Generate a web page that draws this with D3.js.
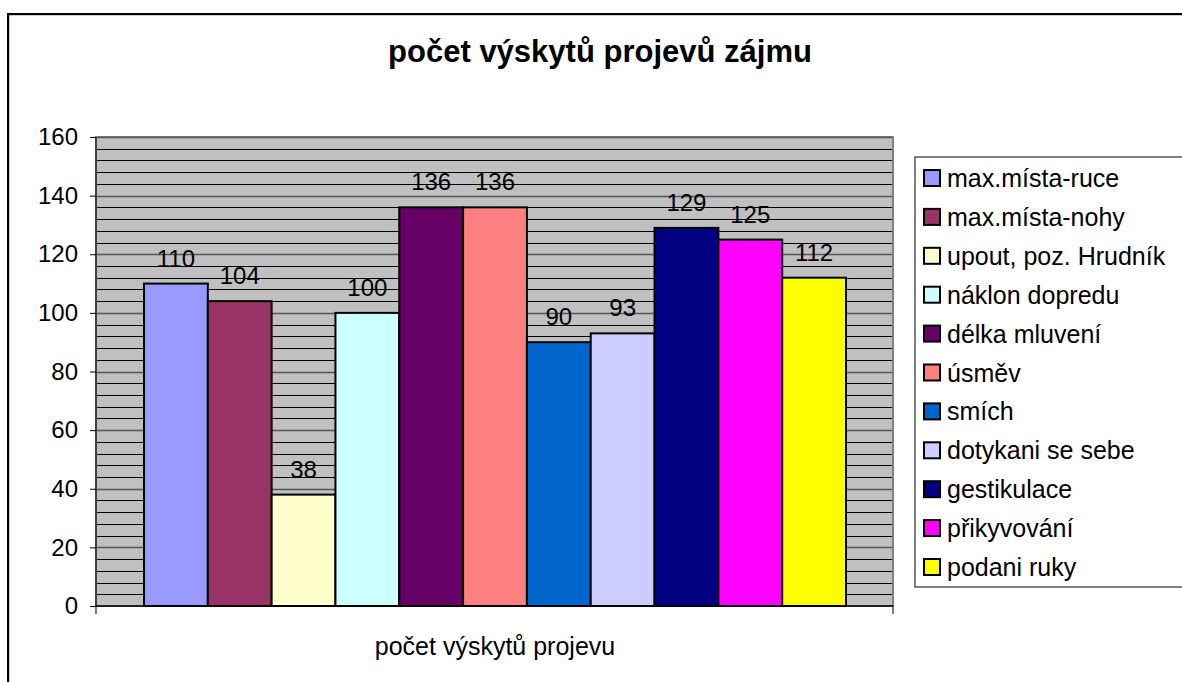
<!DOCTYPE html>
<html>
<head>
<meta charset="utf-8">
<script src="https://cdn.jsdelivr.net/npm/d3@7"></script>
<style>
  body { margin: 0; background: #fff; }
  svg { display: block; font-family: "Liberation Sans", Arial, sans-serif; }
</style>
</head>
<body>
<script>
// data
var categories = ['max.místa-ruce', 'max.místa-nohy', 'upout, poz. Hrudník', 'náklon dopredu',
  'délka mluvení', 'úsměv', 'smích', 'dotykani se sebe', 'gestikulace', 'přikyvování', 'podani ruky'];
var values = [110, 104, 38, 100, 136, 136, 90, 93, 129, 125, 112];
var colors = ['#9999FF', '#993366', '#FFFFCC', '#CCFFFF', '#660066', '#FF8080',
  '#0066CC', '#CCCCFF', '#000080', '#FF00FF', '#FFFF00'];
var yTicks = [0, 20, 40, 60, 80, 100, 120, 140, 160];
var groupLabel = 'počet výskytů projevu';

var W = 1182, H = 682;
var plot = { left: 96, top: 137, right: 893, bottom: 606 };

var svg = d3.select('body').append('svg')
  .attr('width', W).attr('height', H);

// chart border
svg.append('rect')
  .attr('x', 9).attr('y', 15).attr('width', W + 20).attr('height', H + 20)
  .attr('fill', 'none').attr('stroke', '#999').attr('stroke-width', 1);
svg.append('rect')
  .attr('x', 8).attr('y', 14).attr('width', W + 20).attr('height', H + 20)
  .attr('fill', 'none').attr('stroke', '#000').attr('stroke-width', 2);

svg.append('text')
  .attr('x', 600).attr('y', 62)
  .attr('text-anchor', 'middle')
  .attr('font-size', 31).attr('font-weight', 'bold')
  .text('počet výskytů projevů zájmu');

var y = d3.scaleLinear().domain([0, 160]).range([plot.bottom, plot.top]);
var x = d3.scaleBand().domain(categories)
  .range([144, 846]).paddingInner(0).paddingOuter(0);

// plot background
svg.append('rect')
  .attr('x', plot.left).attr('y', plot.top)
  .attr('width', plot.right - plot.left).attr('height', plot.bottom - plot.top)
  .attr('fill', '#C0C0C0').attr('stroke', '#808080').attr('stroke-width', 2);

// gridlines (minor every 4, major every 20)
var grid = d3.range(4, 161, 4);
svg.append('g').selectAll('line')
  .data(grid).enter().append('line')
  .attr('x1', plot.left + 1).attr('x2', plot.right - 1)
  .attr('y1', function (d) { return Math.round(y(d)) + 0.5; })
  .attr('y2', function (d) { return Math.round(y(d)) + 0.5; })
  .attr('stroke', function (d) { return d % 20 === 0 ? '#555' : '#000'; })
  .attr('stroke-width', function (d) { return d % 20 === 0 ? 1.5 : 1; });

// y axis
var yAxis = d3.axisLeft(y).tickValues(yTicks).tickSize(6).tickPadding(12);
var ga = svg.append('g')
  .attr('transform', 'translate(' + plot.left + ',0)')
  .call(yAxis);
ga.select('.domain').attr('stroke', '#000').attr('d', 'M0,' + plot.top + 'V' + (plot.bottom + 8));
ga.selectAll('.tick line').attr('stroke', '#000');
ga.selectAll('.tick text').attr('font-size', 24).attr('fill', '#000')
  .attr('font-family', '"Liberation Sans", Arial, sans-serif');

// x axis line
svg.append('line')
  .attr('x1', plot.left).attr('x2', plot.right)
  .attr('y1', plot.bottom).attr('y2', plot.bottom)
  .attr('stroke', '#000').attr('stroke-width', 1.5);
svg.append('line')
  .attr('x1', plot.right).attr('x2', plot.right)
  .attr('y1', plot.bottom).attr('y2', plot.bottom + 8)
  .attr('stroke', '#000');

svg.append('text')
  .attr('x', 495).attr('y', 655)
  .attr('text-anchor', 'middle').attr('font-size', 25)
  .text(groupLabel);

// bars
svg.append('g').selectAll('rect')
  .data(values).enter().append('rect')
  .attr('x', function (d, i) { return x(categories[i]); })
  .attr('y', function (d) { return y(d); })
  .attr('width', x.bandwidth())
  .attr('height', function (d) { return y(0) - y(d); })
  .attr('fill', function (d, i) { return colors[i]; })
  .attr('stroke', '#000').attr('stroke-width', 2);

svg.append('g').selectAll('text')
  .data(values).enter().append('text')
  .attr('x', function (d, i) { return x(categories[i]) + x.bandwidth() / 2; })
  .attr('y', function (d) { return y(d) - 17; })
  .attr('text-anchor', 'middle').attr('font-size', 24)
  .text(function (d) { return d; });

// legend
svg.append('rect')
  .attr('x', 915).attr('y', 157).attr('width', 300).attr('height', 430)
  .attr('fill', '#fff').attr('stroke', '#000').attr('stroke-width', 1);

var leg = svg.append('g').selectAll('g')
  .data(categories).enter().append('g')
  .attr('transform', function (d, i) { return 'translate(924,' + (178 + i * 38.9) + ')'; });
leg.append('rect')
  .attr('x', 0).attr('y', -8).attr('width', 16).attr('height', 16)
  .attr('fill', function (d, i) { return colors[i]; })
  .attr('stroke', '#000').attr('stroke-width', 2);
leg.append('text')
  .attr('x', 23).attr('y', 9)
  .attr('font-size', 25)
  .text(function (d) { return d; });
</script>
</body>
</html>
